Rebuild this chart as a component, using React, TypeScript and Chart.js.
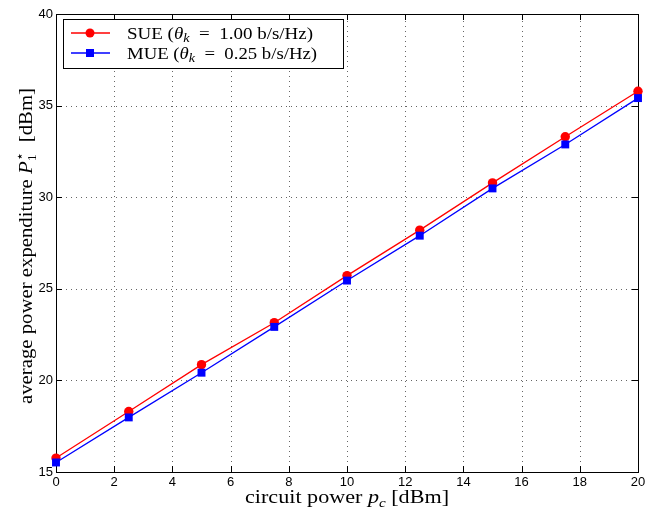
import React, { useEffect, useRef } from "react";
import { Chart, registerables } from "chart.js";

Chart.register(...registerables);

const xValues = [0, 2.5, 5, 7.5, 10, 12.5, 15, 17.5, 20];
const sueValues = [15.76, 18.3, 20.86, 23.15, 25.72, 28.2, 30.78, 33.3, 35.78];
const mueValues = [15.52, 17.98, 20.42, 22.92, 25.45, 27.9, 30.48, 32.88, 35.41];
const xTickStep = 2;
const yTickStep = 5;
const xRange = [0, 20];
const yRange = [15, 40];

const SERIF = "'Liberation Serif', 'DejaVu Serif', serif";
const SANS = "'Liberation Sans', Arial, sans-serif";

type Part = { t?: string; font?: string; dy?: number; stack?: Part[] };

function partWidth(ctx: CanvasRenderingContext2D, p: Part): number {
  if (p.stack) return Math.max(...p.stack.map((s) => partWidth(ctx, s)));
  ctx.font = p.font as string;
  return ctx.measureText(p.t as string).width;
}

function drawParts(
  ctx: CanvasRenderingContext2D,
  parts: Part[],
  x: number,
  y: number,
  align: "left" | "center",
  targetWidth?: number
) {
  const total = parts.reduce((a, p) => a + partWidth(ctx, p), 0);
  const k = targetWidth ? targetWidth / total : 1;
  const start = align === "center" ? x - (total * k) / 2 : x;
  ctx.save();
  ctx.translate(start, y);
  ctx.scale(k, 1);
  let cx = 0;
  ctx.textAlign = "left";
  ctx.textBaseline = "alphabetic";
  for (const p of parts) {
    const w = partWidth(ctx, p);
    const list = p.stack ? p.stack : [p];
    for (const s of list) {
      ctx.font = s.font as string;
      ctx.fillText(s.t as string, cx, s.dy || 0);
    }
    cx += w;
  }
  ctx.restore();
}

const titleSize = 19;
const legendSize = 16;

const xTitleParts: Part[] = [
  { t: "circuit power ", font: `${titleSize}px ${SERIF}` },
  { t: "p", font: `italic ${titleSize}px ${SERIF}` },
  { t: "c", font: `italic 13px ${SERIF}`, dy: 4 },
  { t: " [dBm]", font: `${titleSize}px ${SERIF}` },
];

const yTitleParts: Part[] = [
  { t: "average power expenditure ", font: `${titleSize}px ${SERIF}` },
  { t: "P", font: `italic ${titleSize}px ${SERIF}` },
  {
    stack: [
      { t: "1", font: `13px ${SERIF}`, dy: 4 },
      { t: "⋆", font: `13px ${SERIF}`, dy: -8 },
    ],
  },
  { t: "  [dBm]", font: `${titleSize}px ${SERIF}` },
];

const legendRows: { color: string; marker: "circle" | "square"; parts: Part[] }[] = [
  {
    color: "#ff0000",
    marker: "circle",
    parts: [
      { t: "SUE (", font: `${legendSize}px ${SERIF}` },
      { t: "θ", font: `italic ${legendSize}px ${SERIF}` },
      { t: "k", font: `italic 12px ${SERIF}`, dy: 3 },
      { t: "  =  1.00 b/s/Hz)", font: `${legendSize}px ${SERIF}` },
    ],
  },
  {
    color: "#0000ff",
    marker: "square",
    parts: [
      { t: "MUE (", font: `${legendSize}px ${SERIF}` },
      { t: "θ", font: `italic ${legendSize}px ${SERIF}` },
      { t: "k", font: `italic 12px ${SERIF}`, dy: 3 },
      { t: "  =  0.25 b/s/Hz)", font: `${legendSize}px ${SERIF}` },
    ],
  },
];

const framePlugin = {
  id: "frame",
  beforeDatasetsDraw(chart: any) {
    const { ctx, chartArea: a, scales } = chart;
    ctx.save();
    // dotted grid
    ctx.strokeStyle = "rgba(0,0,0,0.6)";
    ctx.lineWidth = 1;
    ctx.setLineDash([1, 4]);
    ctx.beginPath();
    for (let v = xRange[0] + xTickStep; v < xRange[1]; v += xTickStep) {
      const px = Math.round(scales.x.getPixelForValue(v)) + 0.5;
      ctx.moveTo(px, a.bottom);
      ctx.lineTo(px, a.top);
    }
    for (let v = yRange[0] + yTickStep; v < yRange[1]; v += yTickStep) {
      const py = Math.round(scales.y.getPixelForValue(v)) + 0.5;
      ctx.moveTo(a.left, py);
      ctx.lineTo(a.right, py);
    }
    ctx.stroke();

    // inward ticks and box
    ctx.strokeStyle = "#000";
    ctx.setLineDash([]);
    ctx.beginPath();
    const tl = 6;
    for (let v = xRange[0] + xTickStep; v < xRange[1]; v += xTickStep) {
      const px = Math.round(scales.x.getPixelForValue(v)) + 0.5;
      ctx.moveTo(px, a.bottom);
      ctx.lineTo(px, a.bottom - tl);
      ctx.moveTo(px, a.top);
      ctx.lineTo(px, a.top + tl);
    }
    for (let v = yRange[0] + yTickStep; v < yRange[1]; v += yTickStep) {
      const py = Math.round(scales.y.getPixelForValue(v)) + 0.5;
      ctx.moveTo(a.left, py);
      ctx.lineTo(a.left + tl, py);
      ctx.moveTo(a.right, py);
      ctx.lineTo(a.right - tl, py);
    }
    ctx.stroke();
    ctx.strokeRect(
      Math.round(a.left) + 0.5,
      Math.round(a.top) + 0.5,
      Math.round(a.right - a.left),
      Math.round(a.bottom - a.top)
    );
    ctx.restore();
  },
  afterDraw(chart: any) {
    const { ctx, chartArea: a } = chart;
    ctx.save();
    ctx.fillStyle = "#000";
    // x title
    drawParts(ctx, xTitleParts, (a.left + a.right) / 2, 503, "center", 204);
    // y title
    ctx.save();
    ctx.translate(32, (a.top + a.bottom) / 2 + 3);
    ctx.rotate(-Math.PI / 2);
    drawParts(ctx, yTitleParts, 0, 0, "center", 316);
    ctx.restore();

    // legend
    const bx = 63.5,
      by = 19.5,
      bw = 280,
      bh = 49;
    ctx.fillStyle = "#fff";
    ctx.fillRect(bx, by, bw, bh);
    ctx.strokeStyle = "#000";
    ctx.lineWidth = 1;
    ctx.strokeRect(bx, by, bw, bh);
    legendRows.forEach((row, i) => {
      const cy = 33 + i * 20;
      ctx.strokeStyle = row.color;
      ctx.lineWidth = 1.3;
      ctx.beginPath();
      ctx.moveTo(71, cy);
      ctx.lineTo(110, cy);
      ctx.stroke();
      ctx.fillStyle = row.color;
      if (row.marker === "circle") {
        ctx.beginPath();
        ctx.arc(90, cy, 4.5, 0, Math.PI * 2);
        ctx.fill();
      } else {
        ctx.fillRect(86, cy - 4, 8, 8);
      }
      ctx.fillStyle = "#000";
      drawParts(ctx, row.parts, 127, cy + 5.5, "left", i === 0 ? 186 : 190);
    });
    ctx.restore();
  },
};

export default function App() {
  const ref = useRef<HTMLCanvasElement | null>(null);
  useEffect(() => {
    if (!ref.current) return;
    const chart = new Chart(ref.current, {
      type: "line",
      data: {
        datasets: [
          {
            label: "SUE",
            data: xValues.map((x, i) => ({ x, y: sueValues[i] })),
            borderColor: "#ff0000",
            backgroundColor: "#ff0000",
            borderWidth: 1.3,
            pointStyle: "circle",
            pointRadius: 4.7,
            pointBorderWidth: 0,
            order: 1,
            clip: false as any,
          },
          {
            label: "MUE",
            data: xValues.map((x, i) => ({ x, y: mueValues[i] })),
            borderColor: "#0000ff",
            backgroundColor: "#0000ff",
            borderWidth: 1.3,
            pointStyle: "rect",
            pointRadius: 5.6,
            pointBorderWidth: 0,
            order: 0,
            clip: false as any,
          },
        ],
      },
      options: {
        responsive: false,
        animation: false,
        devicePixelRatio: 1,
        layout: { padding: { top: 14, right: 16, left: 0, bottom: 0 } },
        plugins: { legend: { display: false }, tooltip: { enabled: false } },
        scales: {
          x: {
            type: "linear",
            min: xRange[0],
            max: xRange[1],
            ticks: { stepSize: xTickStep, color: "#000", font: { family: SANS, size: 13 }, padding: 3, maxRotation: 0 },
            grid: { display: false, drawTicks: false },
            border: { display: false },
            afterFit: (s: any) => {
              s.height = 40;
            },
          },
          y: {
            type: "linear",
            min: yRange[0],
            max: yRange[1],
            ticks: { stepSize: yTickStep, color: "#000", font: { family: SANS, size: 13 }, padding: 3 },
            grid: { display: false, drawTicks: false },
            border: { display: false },
            afterFit: (s: any) => {
              s.width = 56;
            },
          },
        },
      },
      plugins: [framePlugin],
    });
    return () => chart.destroy();
  }, []);
  return (
    <div style={{ position: "fixed", left: 0, top: 0, width: 654, height: 512, background: "#fff" }}>
      <canvas ref={ref} width={654} height={512} style={{ width: 654, height: 512 }} />
    </div>
  );
}
